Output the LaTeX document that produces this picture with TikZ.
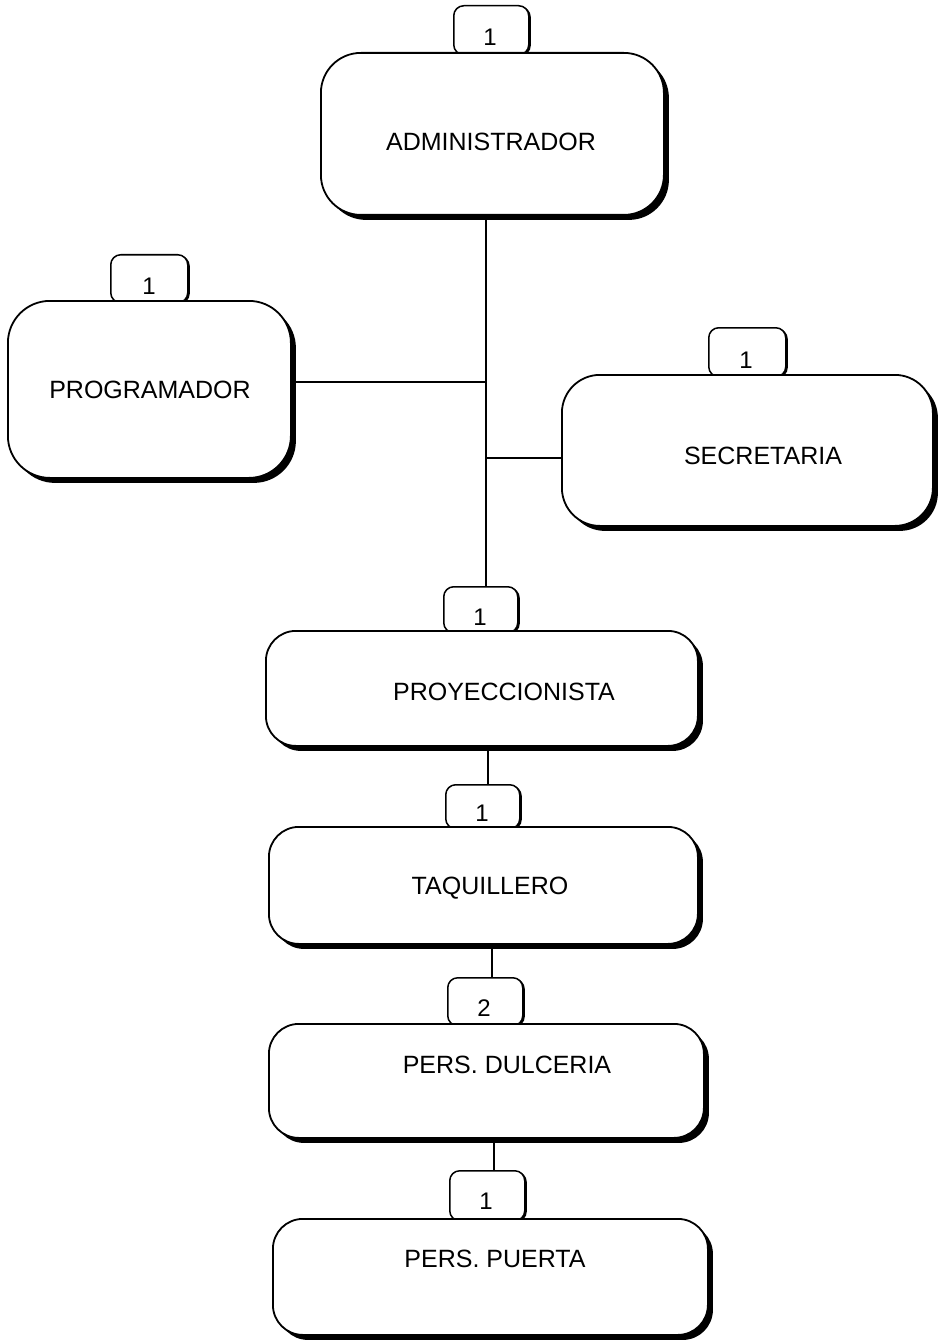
\documentclass[tikz,border=0pt]{standalone}
\usepackage{fontspec}
\setmainfont{Liberation Sans}
\usetikzlibrary{shadows,backgrounds}
\begin{document}
\begin{tikzpicture}[x=1pt,y=-1pt,
  box/.style={draw=black, line width=1.8pt, fill=white, rounded corners=#1, inner sep=0pt, anchor=north west,
    drop shadow={shadow xshift=5pt, shadow yshift=-5pt, opacity=1, fill=black}},
  tab/.style={draw=black, line width=1.5pt, fill=white, rounded corners=10pt, inner sep=0pt, anchor=north west,
    drop shadow={shadow xshift=2pt, shadow yshift=-1pt, opacity=1, fill=black}},
  lbl/.style={font=\fontsize{25}{29}\selectfont, inner sep=0pt},
  num/.style={font=\fontsize{24}{28}\selectfont, inner sep=0pt},
  conn/.style={draw=black, line width=1.5pt}]
\useasboundingbox (0,0) rectangle (941,1340);
% tabs
\node[tab, minimum width=75pt, minimum height=49pt] (t1) at (453,5) {};
\node[tab, minimum width=77pt, minimum height=48pt] (t2) at (110,254) {};
\node[tab, minimum width=77pt, minimum height=49pt] (t3) at (708,327) {};
\node[tab, minimum width=74pt, minimum height=46pt] (t4) at (443,586) {};
\node[tab, minimum width=74pt, minimum height=44pt] (t5) at (445,784) {};
\node[tab, minimum width=75pt, minimum height=48pt] (t6) at (447,977) {};
\node[tab, minimum width=75pt, minimum height=50pt] (t7) at (449,1170) {};
% boxes
\node[box=40pt, minimum width=343pt, minimum height=162pt] (b1) at (320,52) {};
\node[box=42pt, minimum width=283pt, minimum height=177pt] (b2) at (7,300) {};
\node[box=38pt, minimum width=371pt, minimum height=151pt] (b3) at (561,374) {};
\node[box=30pt, minimum width=432pt, minimum height=115pt] (b4) at (265,630) {};
\node[box=30pt, minimum width=429pt, minimum height=117pt] (b5) at (268,826) {};
\node[box=30pt, minimum width=435pt, minimum height=114pt] (b6) at (268,1023) {};
\node[box=30pt, minimum width=435pt, minimum height=116pt] (b7) at (272,1218) {};
% numbers
\node[num] (n1) at (490,37) {1};
\node[num] (n2) at (149,286) {1};
\node[num] (n3) at (746,360) {1};
\node[num] (n4) at (480,617) {1};
\node[num] (n5) at (482,813) {1};
\node[num] (n6) at (484,1008) {2};
\node[num] (n7) at (486,1201) {1};
% labels
\node[lbl] (l1) at (491,142) {ADMINISTRADOR};
\node[lbl] (l2) at (150,390) {PROGRAMADOR};
\node[lbl] (l3) at (763,456) {SECRETARIA};
\node[lbl] (l4) at (504,692) {PROYECCIONISTA};
\node[lbl] (l5) at (490,888) {TAQUILLERO};
\node[lbl] (l6) at (507,1065) {PERS. DULCERIA};
\node[lbl] (l7) at (495,1259) {PERS. PUERTA};
% connector coordinates
\coordinate (v1) at (486,0);
\coordinate (h1) at (486,382);
\coordinate (h2) at (486,458);
\coordinate (v2) at (488,0);
\coordinate (v3) at (492,0);
\coordinate (v4) at (494,0);
\begin{scope}[on background layer]
\draw[conn] (b1.south -| v1) -- (t4.north -| v1);
\draw[conn] (b2.east |- h1) -- (h1);
\draw[conn] (h2) -- (b3.west |- h2);
\draw[conn] (b4.south -| v2) -- (t5.north -| v2);
\draw[conn] (b5.south -| v3) -- (t6.north -| v3);
\draw[conn] (b6.south -| v4) -- (t7.north -| v4);
\end{scope}
\end{tikzpicture}
\end{document}
